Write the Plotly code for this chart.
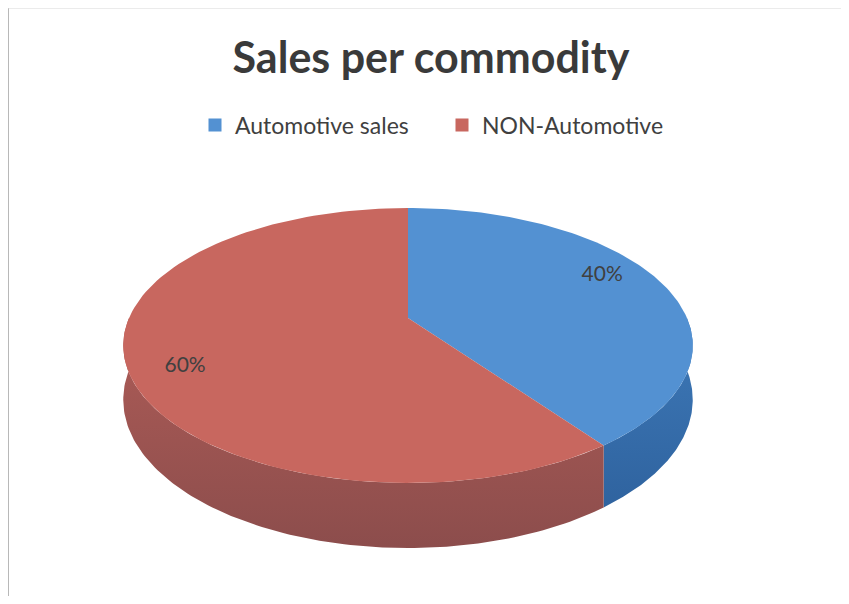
import numpy as np
import plotly.graph_objects as go

# ---- data ----
categories = ["Automotive sales", "NON-Automotive"]
values = [40, 60]
top_colors = ["#5391D2", "#C8675F"]
side_top_colors = ["#3E79B8", "#AE5C57"]
side_bottom_colors = ["#2F639F", "#8C4D4C"]

# page body has an 8px margin; work in screen pixel coordinates
OFF = 8
W, H = 849 - 2 * OFF, 604 - 2 * OFF
# projection parameters (screen pixels)
CX, CY = 408, 318
A, B = 279, 132
P = 0.2
D = 52


def proj(u, v, z=0.0):
    s = 1.0 / (1.0 - P * v)
    return CX + A * u * s, CY + B * v * s + z * D * s


def arc(t0, t1, r=1.0, z=0.0, n=120):
    th = np.linspace(t0, t1, n)
    u = r * np.sin(th)
    v = -r * np.cos(th)
    return proj(u, v, z)


def py(screen_y):
    return 1 - (screen_y - OFF) / H


def px(screen_x):
    return (screen_x - OFF) / W


fig = go.Figure()
total = float(sum(values))
fracs = [v / total for v in values]
starts = np.cumsum([0] + fracs[:-1]) * 2 * np.pi
ends = np.cumsum(fracs) * 2 * np.pi

# side walls (visible front half only)
for i in range(len(values)):
    t0 = max(starts[i], np.pi / 2)
    t1 = min(ends[i], 3 * np.pi / 2)
    if t1 <= t0:
        continue
    xt, yt = arc(t0, t1, z=0.0)
    xb, yb = arc(t0, t1, z=1.0)
    xs = np.concatenate([xt, xb[::-1], xt[:1]])
    ys = np.concatenate([yt, yb[::-1], yt[:1]])
    fig.add_trace(go.Scatter(
        x=xs, y=ys, mode="lines", fill="toself",
        line=dict(width=0, color=side_top_colors[i]),
        fillgradient=dict(type="vertical",
                          colorscale=[[0, side_bottom_colors[i]], [1, side_top_colors[i]]]),
        showlegend=False, hoverinfo="skip"))

# top faces
for i in range(len(values)):
    xa, ya = arc(starts[i], ends[i])
    cx0, cy0 = proj(0.0, 0.0)
    xs = np.concatenate([[cx0], xa, [cx0]])
    ys = np.concatenate([[cy0], ya, [cy0]])
    fig.add_trace(go.Scatter(
        x=xs, y=ys, mode="lines", fill="toself",
        line=dict(width=0, color=top_colors[i]), fillcolor=top_colors[i],
        showlegend=False, name=categories[i], hoverinfo="name"))

# data labels
lx, ly, lt = [], [], []
for i in range(len(values)):
    mid = (starts[i] + ends[i]) / 2 - 0.12
    x, y = proj(0.82 * np.sin(mid), -0.82 * np.cos(mid))
    lx.append(x)
    ly.append(y)
    lt.append(f"{round(fracs[i] * 100)}%")
fig.add_trace(go.Scatter(x=lx, y=ly, mode="text", text=lt,
                         textfont=dict(size=21, color="#404040", family="Lato"),
                         showlegend=False, hoverinfo="skip"))

# legend entries
for i in range(len(values)):
    fig.add_trace(go.Scatter(x=[None], y=[None], mode="markers", name=categories[i],
                             marker=dict(symbol="square", size=13, color=top_colors[i])))

fig.update_layout(
    width=W, height=H,
    margin=dict(l=0, r=0, t=0, b=0),
    paper_bgcolor="white", plot_bgcolor="white",
    xaxis=dict(range=[OFF, OFF + W], visible=False, fixedrange=True),
    yaxis=dict(range=[OFF + H, OFF], visible=False, fixedrange=True),
    title=dict(text="<b>Sales per commodity</b>", x=px(431), xanchor="center",
               y=py(58), yanchor="middle",
               font=dict(family="Lato", size=43, color="#3A3A3A")),
    legend=dict(orientation="h", x=px(442), xanchor="center", y=py(125), yanchor="middle",
                entrywidth=202, entrywidthmode="pixels",
                font=dict(family="Lato", size=23, color="#404040"),
                bgcolor="rgba(0,0,0,0)"),
    shapes=[
        dict(type="line", xref="paper", yref="paper", x0=0, x1=0, y0=0, y1=1,
             line=dict(color="#A0A0A0", width=1.5)),
        dict(type="line", xref="paper", yref="paper", x0=0, x1=1, y0=1, y1=1,
             line=dict(color="#D8D8D8", width=1)),
    ],
)

fig.write_html("out.html")
